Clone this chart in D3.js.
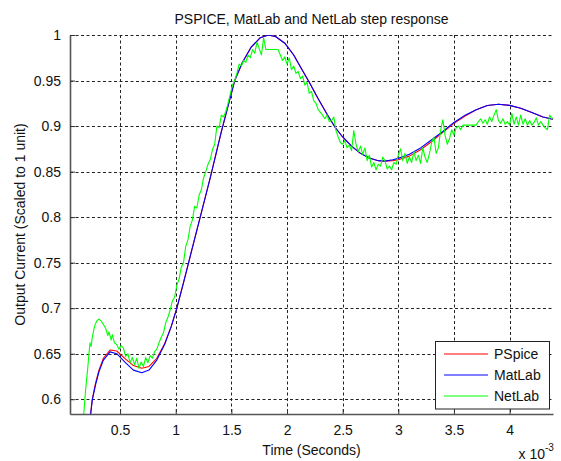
<!DOCTYPE html>
<html><head><meta charset="utf-8">
<script src="https://cdn.jsdelivr.net/npm/d3@7"></script>
<style>
body{margin:0;background:#fff;}
svg{display:block;font-family:"Liberation Sans",Arial,sans-serif;}
</style></head>
<body><svg id="c" width="561" height="461"></svg>
<script>
// ---- data (time in ms, i.e. x 10^-3 s) ----
const seriesNames = ["PSpice", "MatLab", "NetLab"];
const seriesColors = ["#ff0000", "#0000ff", "#00ff00"];
const xTicks = [0.5, 1, 1.5, 2, 2.5, 3, 3.5, 4];
const yTicks = [0.6, 0.65, 0.7, 0.75, 0.8, 0.85, 0.9, 0.95, 1];

const matlabT = [0.23,0.25,0.28,0.31,0.35,0.41,0.47,0.55,0.62,0.695,0.76,0.83,0.90,0.96,1.01,1.07,1.13,1.22,1.31,1.41,1.53,1.60,1.68,1.76,1.833,1.90,1.98,2.06,2.13,2.20,2.28,2.36,2.43,2.50,2.58,2.66,2.74,2.82,2.88,2.95,3.0,3.1,3.2,3.3,3.4,3.5,3.6,3.7,3.8,3.9,4.0,4.1,4.2,4.3,4.39];
const matlabV = [0.578,0.599,0.616,0.630,0.643,0.652,0.650,0.640,0.632,0.629,0.632,0.643,0.660,0.680,0.700,0.728,0.757,0.800,0.843,0.894,0.950,0.970,0.987,0.997,1.000,0.998,0.991,0.978,0.963,0.948,0.930,0.913,0.899,0.888,0.878,0.870,0.865,0.862,0.8615,0.863,0.8645,0.869,0.876,0.885,0.894,0.904,0.912,0.918,0.9226,0.924,0.9227,0.9195,0.915,0.910,0.9075];

const pspiceT = [0.23,0.25,0.28,0.31,0.35,0.41,0.47,0.55,0.62,0.695,0.76,0.83,0.90,0.96,1.01,1.07,1.13,1.22,1.31,1.41,1.53,1.60,1.68,1.76,1.833,1.90,1.98,2.06,2.13,2.20,2.28,2.36,2.43,2.50,2.58,2.66,2.74,2.82,2.88,2.95,3.0,3.1,3.2,3.3,3.4,3.5,3.6,3.7,3.8,3.9,4.0,4.1,4.2,4.3,4.39];
const pspiceV = [0.578,0.600,0.618,0.632,0.645,0.654,0.653,0.644,0.637,0.634,0.636,0.645,0.661,0.680,0.700,0.728,0.757,0.800,0.843,0.894,0.950,0.970,0.987,0.997,1.000,0.998,0.991,0.978,0.963,0.948,0.930,0.913,0.899,0.888,0.878,0.870,0.865,0.862,0.8615,0.862,0.863,0.867,0.874,0.883,0.893,0.903,0.911,0.918,0.9226,0.924,0.9227,0.9195,0.915,0.910,0.9075];

const netlabT = [0.17,0.19,0.21,0.22,0.23,0.24,0.25,0.27,0.29,0.31,0.33,0.35,0.37,0.39,0.40,0.42,0.43,0.45,0.47,0.49,0.51,0.53,0.55,0.57,0.59,0.61,0.63,0.65,0.67,0.69,0.71,0.73,0.75,0.77,0.79,0.81,0.83,0.85,0.87,0.89,0.91,0.93,0.95,0.97,0.99,1.01,1.03,1.05,1.07,1.09,1.11,1.13,1.15,1.17,1.19,1.21,1.23,1.25,1.27,1.29,1.31,1.33,1.35,1.37,1.39,1.41,1.43,1.45,1.47,1.49,1.51,1.53,1.55,1.57,1.59,1.61,1.63,1.65,1.67,1.69,1.71,1.73,1.75,1.77,1.79,1.81,1.83,1.86,1.89,1.92,1.94,1.96,1.98,2.00,2.02,2.04,2.06,2.08,2.10,2.12,2.14,2.16,2.18,2.20,2.22,2.24,2.26,2.28,2.30,2.32,2.34,2.36,2.38,2.40,2.42,2.44,2.46,2.48,2.50,2.52,2.54,2.56,2.58,2.60,2.62,2.64,2.66,2.68,2.70,2.72,2.74,2.76,2.78,2.80,2.82,2.84,2.86,2.88,2.90,2.92,2.94,2.96,2.98,3.00,3.02,3.04,3.06,3.08,3.10,3.12,3.14,3.16,3.18,3.20,3.22,3.24,3.26,3.28,3.30,3.32,3.34,3.36,3.38,3.40,3.42,3.44,3.46,3.48,3.50,3.52,3.54,3.56,3.58,3.60,3.65,3.70,3.72,3.74,3.76,3.78,3.80,3.82,3.84,3.86,3.88,3.90,3.92,3.94,3.96,3.98,4.00,4.02,4.04,4.06,4.08,4.10,4.12,4.14,4.16,4.18,4.20,4.22,4.24,4.26,4.28,4.30,4.32,4.34,4.36,4.38,4.39];
const netlabV = [0.578,0.610,0.635,0.650,0.662,0.658,0.668,0.680,0.686,0.688,0.686,0.682,0.678,0.670,0.674,0.665,0.671,0.662,0.660,0.655,0.659,0.656,0.647,0.650,0.640,0.646,0.638,0.645,0.634,0.641,0.636,0.646,0.640,0.648,0.645,0.652,0.655,0.662,0.668,0.673,0.684,0.690,0.698,0.708,0.712,0.725,0.732,0.745,0.750,0.768,0.775,0.790,0.797,0.812,0.810,0.824,0.830,0.843,0.850,0.858,0.863,0.874,0.880,0.900,0.898,0.912,0.910,0.916,0.925,0.935,0.945,0.950,0.958,0.968,0.966,0.972,0.970,0.978,0.975,0.984,0.980,0.992,0.985,0.978,0.997,0.984,0.984,0.984,0.984,0.984,0.978,0.972,0.976,0.968,0.975,0.962,0.966,0.958,0.960,0.952,0.955,0.945,0.948,0.936,0.938,0.928,0.925,0.918,0.915,0.912,0.908,0.912,0.905,0.906,0.910,0.895,0.888,0.882,0.880,0.884,0.876,0.879,0.873,0.895,0.880,0.872,0.878,0.869,0.876,0.862,0.868,0.855,0.860,0.852,0.858,0.856,0.866,0.862,0.853,0.856,0.852,0.860,0.858,0.868,0.875,0.862,0.870,0.859,0.866,0.860,0.872,0.862,0.868,0.859,0.876,0.866,0.860,0.870,0.882,0.888,0.870,0.876,0.895,0.907,0.890,0.880,0.886,0.896,0.890,0.898,0.900,0.896,0.901,0.901,0.901,0.901,0.905,0.908,0.903,0.907,0.902,0.910,0.905,0.912,0.918,0.906,0.903,0.908,0.902,0.905,0.901,0.914,0.902,0.910,0.901,0.912,0.902,0.908,0.901,0.906,0.901,0.904,0.909,0.901,0.905,0.901,0.898,0.896,0.912,0.908,0.909];

const seriesT = [pspiceT, matlabT, netlabT];
const seriesV = [pspiceV, matlabV, netlabV];

// ---- layout ----
const L = 70, R = 553, T = 35, B = 414;
const svg = d3.select("#c");
const x = d3.scaleLinear().domain([0.05, 4.39]).range([L, R]);
const y = d3.scaleLinear().domain([0.5838, 1]).range([B, T]);

// grid
const g = svg.append("g");
g.selectAll(".vg").data(xTicks).enter().append("line")
  .attr("x1", d => Math.round(x(d)) + 0.5).attr("x2", d => Math.round(x(d)) + 0.5)
  .attr("y1", T).attr("y2", B)
  .attr("stroke", "#222").attr("stroke-width", 1).attr("stroke-dasharray", "3,2.5");
g.selectAll(".hg").data(yTicks).enter().append("line")
  .attr("y1", d => Math.round(y(d)) + 0.5).attr("y2", d => Math.round(y(d)) + 0.5)
  .attr("x1", L).attr("x2", R)
  .attr("stroke", "#222").attr("stroke-width", 1).attr("stroke-dasharray", "3,2.5");

// clip
svg.append("clipPath").attr("id", "clip").append("rect")
  .attr("x", L).attr("y", T).attr("width", R - L).attr("height", B - T);

const line = d3.line().x(d => x(d[0])).y(d => y(d[1]));
seriesNames.forEach((name, i) => {
  const pts = seriesT[i].map((t, k) => [t, seriesV[i][k]]);
  svg.append("path").datum(pts)
    .attr("clip-path", "url(#clip)")
    .attr("fill", "none").attr("stroke", seriesColors[i]).attr("stroke-width", 1.1)
    .attr("stroke-linejoin", "round")
    .attr("d", line);
});

// axes
const xAxis = d3.axisBottom(x).tickValues(xTicks).tickSizeInner(-5).tickSizeOuter(0).tickPadding(11)
  .tickFormat(d3.format("~g"));
const yAxis = d3.axisLeft(y).tickValues(yTicks).tickSizeInner(-5).tickSizeOuter(0).tickPadding(9)
  .tickFormat(d3.format("~g"));
const xa = svg.append("g").attr("transform", `translate(0,${B})`).call(xAxis);
const ya = svg.append("g").attr("transform", `translate(${L},0)`).call(yAxis);
[xa, ya].forEach(a => {
  a.select(".domain").attr("stroke", "#555").attr("stroke-width", 1.6);
  a.selectAll(".tick line").attr("stroke", "#333");
  a.selectAll("text").attr("font-size", 14).attr("fill", "#111")
    .attr("font-family", "Liberation Sans, Arial, sans-serif");
});

// titles
svg.append("text").attr("x", (L + R) / 2).attr("y", 24).attr("text-anchor", "middle")
  .attr("font-size", 14).attr("fill", "#111").text("PSPICE, MatLab and NetLab step response");
svg.append("text").attr("x", (L + R) / 2).attr("y", 455).attr("text-anchor", "middle")
  .attr("font-size", 14).attr("fill", "#111").text("Time (Seconds)");
svg.append("text").attr("transform", `translate(25,${(T + B) / 2}) rotate(-90)`)
  .attr("text-anchor", "middle").attr("font-size", 14).attr("fill", "#111")
  .text("Output Current (Scaled to 1 unit)");
svg.append("text").attr("x", 545).attr("y", 459).attr("text-anchor", "end")
  .attr("font-size", 14).attr("fill", "#111").text("x 10");
svg.append("text").attr("x", 545).attr("y", 451).attr("font-size", 10).attr("fill", "#111").text("-3");

// legend
const lg = svg.append("g");
lg.append("rect").attr("x", 435.5).attr("y", 341.5).attr("width", 114).attr("height", 67.5)
  .attr("fill", "#fff").attr("stroke", "#222").attr("stroke-width", 1);
seriesNames.forEach((name, i) => {
  const yy = 354 + i * 21;
  lg.append("line").attr("x1", 444).attr("x2", 488).attr("y1", yy).attr("y2", yy)
    .attr("stroke", seriesColors[i]).attr("stroke-width", 1.2);
  lg.append("text").attr("x", 494).attr("y", yy + 5).attr("font-size", 14).attr("fill", "#111").text(name);
});
</script></body></html>
